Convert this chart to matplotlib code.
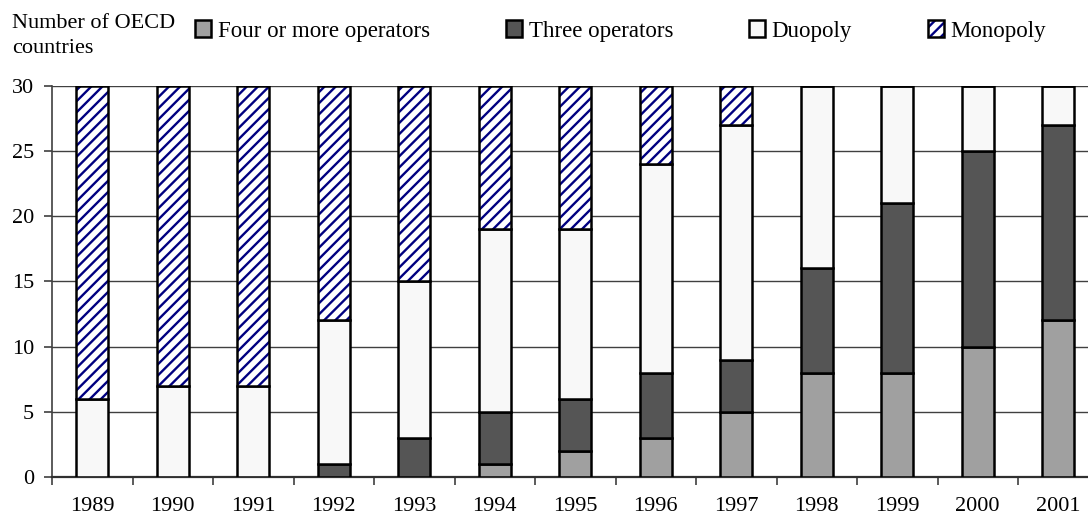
import numpy as np
import matplotlib
matplotlib.use("Agg")
import matplotlib.pyplot as plt
from matplotlib.ticker import FixedLocator

years = ["1989", "1990", "1991", "1992", "1993", "1994", "1995",
         "1996", "1997", "1998", "1999", "2000", "2001"]
four_or_more = [0, 0, 0, 0, 0, 1, 2, 3, 5, 8, 8, 10, 12]
three_ops = [0, 0, 0, 1, 3, 4, 4, 5, 4, 8, 13, 15, 15]
duopoly = [6, 7, 7, 11, 12, 14, 13, 16, 18, 14, 9, 5, 3]
monopoly = [24, 23, 23, 18, 15, 11, 11, 6, 3, 0, 0, 0, 0]
series_names = ["Four or more operators", "Three operators", "Duopoly", "Monopoly"]
y_ticks = [0, 5, 10, 15, 20, 25, 30]

plt.rcParams['font.family'] = ['Liberation Serif', 'DejaVu Serif']
plt.rcParams['hatch.linewidth'] = 1.7

W, H = 1088, 517
fig = plt.figure(figsize=(W / 100, H / 100), dpi=100)
ax = fig.add_axes([52 / W, (H - 477) / H, 13 * 80.5 / W, (477 - 85.5) / H])

x = np.arange(len(years))
a = np.array(four_or_more)
b = np.array(three_ops)
c = np.array(duopoly)
d = np.array(monopoly)
bw = 0.4
lw = 1.8

ax.set_axisbelow(True)
h1 = ax.bar(x, a, bw, color='#A0A0A0', edgecolor='black', linewidth=lw, zorder=3)
h2 = ax.bar(x, b, bw, bottom=a, color='#555555', edgecolor='black', linewidth=lw, zorder=3)
h3 = ax.bar(x, c, bw, bottom=a + b, color='#F8F8F8', edgecolor='black', linewidth=lw, zorder=3)
h4a = ax.bar(x, d, bw, bottom=a + b + c, color='white', edgecolor='#000080',
             linewidth=0, hatch='///', zorder=3)
h4b = ax.bar(x, d, bw, bottom=a + b + c, fill=False, edgecolor='black', linewidth=lw, zorder=4)

ax.set_xlim(-0.5, len(years) - 0.5)
ax.set_ylim(0, 30)
ax.set_yticks(y_ticks)
ax.set_yticklabels([str(v) for v in y_ticks])
ax.yaxis.grid(True, color='#404040', linewidth=1.0)
ax.set_xticks(x)
ax.set_xticklabels(years)
ax.xaxis.set_minor_locator(FixedLocator(np.arange(-0.5, len(years), 1.0)))
ax.tick_params(axis='x', which='major', length=0, pad=14.5, labelsize=16)
ax.tick_params(axis='x', which='minor', length=6, width=1.2, color='#404040', direction='out')
ax.tick_params(axis='y', length=6, width=1.2, color='#404040', pad=7, labelsize=16)

for s in ['top', 'right']:
    ax.spines[s].set_visible(False)
ax.spines['left'].set_color('#404040')
ax.spines['left'].set_linewidth(1.2)
ax.spines['bottom'].set_color('#303030')
ax.spines['bottom'].set_linewidth(1.6)

fig.text(12 / W, 1 - 14 / H, "Number of OECD\ncountries", ha='left', va='top',
         fontsize=16, linespacing=1.45)

fig.legend([h1, h2, h3, (h4a, h4b)], series_names, loc='center left',
           bbox_to_anchor=(195 / W, 1 - 31 / H), ncol=4, frameon=False,
           fontsize=16.5, handlelength=0.7, handleheight=0.7, handletextpad=0.3,
           columnspacing=3.3, borderpad=0, borderaxespad=0)

fig.savefig("out.png", dpi=100)
